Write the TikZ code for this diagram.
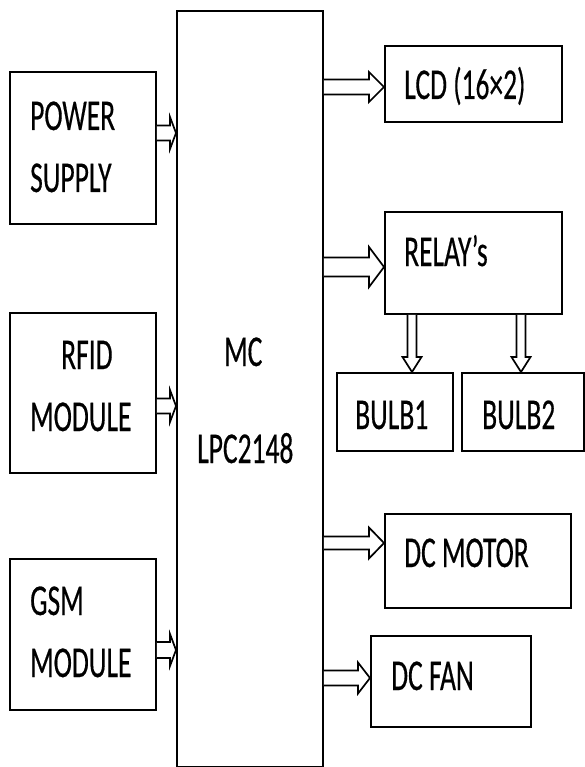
\documentclass[tikz,border=0pt]{standalone}
\usepackage{fontspec}
\setmainfont{Carlito}
\newfontfamily\lblfont[FakeBold=0.5]{Carlito}
\usetikzlibrary{calc}
\newcommand\vstr[1]{\scalebox{1}[1.6]{#1}}
% horizontal block arrow: src, dst, y, half shaft, half head, head length
\newcommand\blkh[6]{%
  \draw[blk] let \p1=(#1.east), \p2=(#2.west), \p3=(0,#3) in
    (\x1,\y3+#4) -- (\x2-#6,\y3+#4) -- (\x2-#6,\y3+#5) -- (\x2,\y3)
    -- (\x2-#6,\y3-#5) -- (\x2-#6,\y3-#4) -- (\x1,\y3-#4);}
% vertical block arrow: src, dst, x, half shaft, half head, head length
\newcommand\blkv[6]{%
  \draw[blk] let \p1=(#1.south), \p2=(#2.north), \p3=(#3,0) in
    (\x3+#4,\y1) -- (\x3+#4,\y2+#6) -- (\x3+#5,\y2+#6) -- (\x3,\y2)
    -- (\x3-#5,\y2+#6) -- (\x3-#4,\y2+#6) -- (\x3-#4,\y1);}
\begin{document}
\begin{tikzpicture}[x=1pt,y=-1pt,
  box/.style={draw, line width=1.9pt, inner sep=0pt, anchor=north west},
  blk/.style={draw, line width=1.7pt, fill=white, line join=miter},
  txt/.style={anchor=base west, inner sep=0pt, font=\lblfont\fontsize{27.5}{30}\selectfont}]
\useasboundingbox[fill=white] (0,0) rectangle (584,767);
% boxes
\node[box, minimum width=146pt, minimum height=152pt] (ps) at (9,71) {};
\node[box, minimum width=146pt, minimum height=160pt] (rfid) at (9,312) {};
\node[box, minimum width=146pt, minimum height=151pt] (gsm) at (9,558) {};
\node[box, minimum width=146pt, minimum height=756pt] (mc) at (176,10) {};
\node[box, minimum width=177pt, minimum height=76pt] (lcd) at (384,45) {};
\node[box, minimum width=177pt, minimum height=102pt] (relay) at (384,211) {};
\node[box, minimum width=116pt, minimum height=78pt] (b1) at (336,372) {};
\node[box, minimum width=122pt, minimum height=78pt] (b2) at (461,372) {};
\node[box, minimum width=186pt, minimum height=94pt] (motor) at (384,513) {};
\node[box, minimum width=160pt, minimum height=91pt] (fan) at (370,635) {};
% texts
\node[txt] (t1) at (30,130) {\vstr{POWER}};
\node[txt] (t2) at (30,192) {\vstr{SUPPLY}};
\node[txt] (t3) at (61,369) {\vstr{RFID}};
\node[txt] (t4) at (30,431) {\vstr{MODULE}};
\node[txt] (t5) at (30,615) {\vstr{GSM}};
\node[txt] (t6) at (30,677) {\vstr{MODULE}};
\node[txt] (t7) at (224,366) {\vstr{MC}};
\node[txt] (t8) at (197,463) {\vstr{LPC2148}};
\node[txt] (t9) at (404,99) {\vstr{LCD (16×2)}};
\node[txt] (t10) at (404,266) {\vstr{RELAY’s}};
\node[txt] (t11) at (355,429) {\vstr{BULB1}};
\node[txt] (t12) at (482,429) {\vstr{BULB2}};
\node[txt] (t13) at (404,567) {\vstr{DC MOTOR}};
\node[txt] (t14) at (391,690) {\vstr{DC FAN}};
% arrows
\blkh{ps}{mc}{133}{7.5}{16}{6}
\blkh{rfid}{mc}{406}{7.5}{16}{6}
\blkh{gsm}{mc}{650}{8}{16}{6}
\blkh{mc}{lcd}{87}{7.5}{15}{15}
\blkh{mc}{relay}{267}{9.5}{20}{15}
\blkh{mc}{motor}{543}{6.5}{15.5}{15}
\blkh{mc}{fan}{678}{7.5}{15.5}{12}
\blkv{relay}{b1}{412}{4.5}{9.5}{15}
\blkv{relay}{b2}{521}{4.5}{9.5}{15}
\end{tikzpicture}
\end{document}
